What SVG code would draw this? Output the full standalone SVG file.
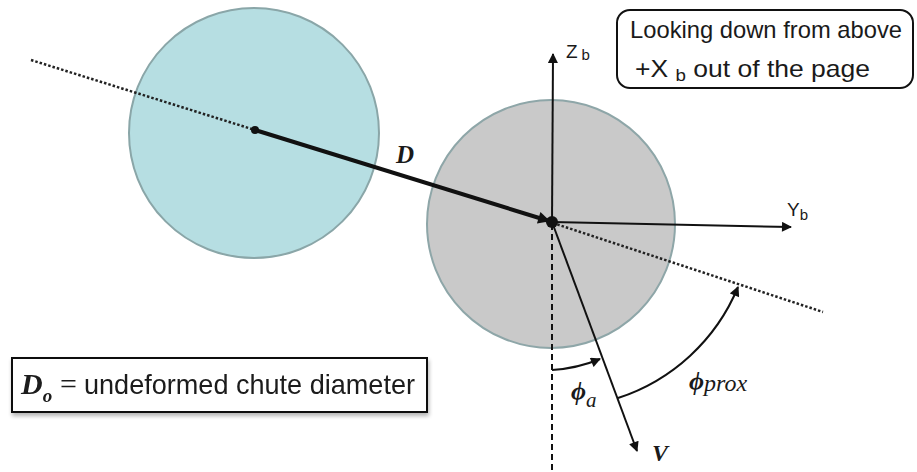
<svg xmlns="http://www.w3.org/2000/svg" width="917" height="472" viewBox="0 0 917 472">
<style>
.sans{font-family:"Liberation Sans",Arial,sans-serif;fill:#1a1a1a}
.math{font-family:"Liberation Serif","Times New Roman",serif;font-style:italic;font-weight:bold;fill:#1a1a1a}
.dot{stroke:#222;stroke-width:2.5;stroke-dasharray:2.5 2;fill:none}
.ax{stroke:#111;stroke-width:2;fill:none}
</style>
<defs>
<marker id="ah" viewBox="0 0 10 10" refX="9" refY="5" markerWidth="12" markerHeight="10" markerUnits="userSpaceOnUse" orient="auto">
<path d="M0,0 L10,5 L0,10 z" fill="#111"/>
</marker>
<marker id="ahb" viewBox="0 0 10 10" refX="9" refY="5" markerWidth="16" markerHeight="12" markerUnits="userSpaceOnUse" orient="auto">
<path d="M0,0 L10,5 L0,10 z" fill="#111"/>
</marker>
<filter id="sh" x="-5%" y="-20%" width="110%" height="150%">
<feGaussianBlur in="SourceAlpha" stdDeviation="2"/>
<feOffset dx="1" dy="3"/>
<feComponentTransfer><feFuncA type="linear" slope="0.3"/></feComponentTransfer>
<feMerge><feMergeNode/><feMergeNode in="SourceGraphic"/></feMerge>
</filter>
</defs>
<rect width="917" height="472" fill="#fff"/>

<g id="chute-prox">
<circle cx="254" cy="133" r="125" fill="#b6dee2" stroke="#8aa6a8" stroke-width="2"/>
</g>
<g id="chute-main">
<circle cx="551" cy="224" r="124" fill="#c9c9c9" stroke="#8ea6a8" stroke-width="2"/>
</g>

<g id="connectors">
<line class="dot" x1="31" y1="60" x2="255" y2="130"/>
<line class="dot" x1="553" y1="223" x2="823" y2="312"/>
<line x1="552" y1="224" x2="552" y2="472" stroke="#111" stroke-width="2" stroke-dasharray="6 4"/>
<line x1="255" y1="130" x2="549" y2="221" stroke="#111" stroke-width="4" marker-end="url(#ahb)"/>
<line class="ax" x1="552" y1="222" x2="553" y2="54" marker-end="url(#ah)"/>
<line class="ax" x1="552" y1="222" x2="791" y2="227" marker-end="url(#ah)"/>
<line class="ax" x1="552" y1="222" x2="637" y2="451" marker-end="url(#ah)"/>
<path class="ax" d="M552,370 A148,148 0 0 0 600,359" marker-end="url(#ah)"/>
<path class="ax" d="M618,398 A195,195 0 0 0 738,287" marker-end="url(#ah)"/>
<circle cx="255" cy="130" r="4" fill="#111"/>
<circle cx="552" cy="222" r="6" fill="#111"/>
</g>

<g id="label-D"><text class="math" x="396" y="163" font-size="25">D</text></g>
<g id="label-Zb"><text class="sans" x="566" y="58" font-size="19">Z<tspan font-size="15" dx="4" dy="2">b</tspan></text></g>
<g id="label-Yb"><text class="sans" x="787" y="216" font-size="19">Y<tspan font-size="15" dy="4">b</tspan></text></g>
<g id="label-V"><text class="math" x="652" y="461" font-size="24">V</text></g>
<g id="label-phia"><text class="math" x="571" y="400" font-size="26">ϕ<tspan font-size="21" dy="7" font-weight="normal">a</tspan></text></g>
<g id="label-phiprox"><text class="math" x="689" y="390" font-size="26">ϕ<tspan font-size="24" dy="1" font-weight="normal">prox</tspan></text></g>

<g id="view-note">
<rect x="617" y="10" width="296" height="78" rx="13" fill="#fff" stroke="#111" stroke-width="2"/>
<text class="sans" x="766" y="38" font-size="24" text-anchor="middle" textLength="272" lengthAdjust="spacingAndGlyphs">Looking down from above</text>
<text class="sans" x="635" y="77" font-size="24" textLength="235" lengthAdjust="spacingAndGlyphs">+X <tspan font-size="17" dy="4">b</tspan><tspan dy="-4"> out of the page</tspan></text>
</g>

<g id="legend" filter="url(#sh)">
<rect x="12" y="358" width="415" height="54" fill="#fff" stroke="#111" stroke-width="2"/>
<text class="math" x="21" y="394" font-size="30">D<tspan font-size="19" dy="8">o</tspan></text>
<text x="60" y="394" font-size="30" font-family="'Liberation Serif',serif" fill="#1a1a1a">=</text>
<text class="sans" x="84" y="394" font-size="28" textLength="331" lengthAdjust="spacingAndGlyphs">undeformed chute diameter</text>
</g>
</svg>
